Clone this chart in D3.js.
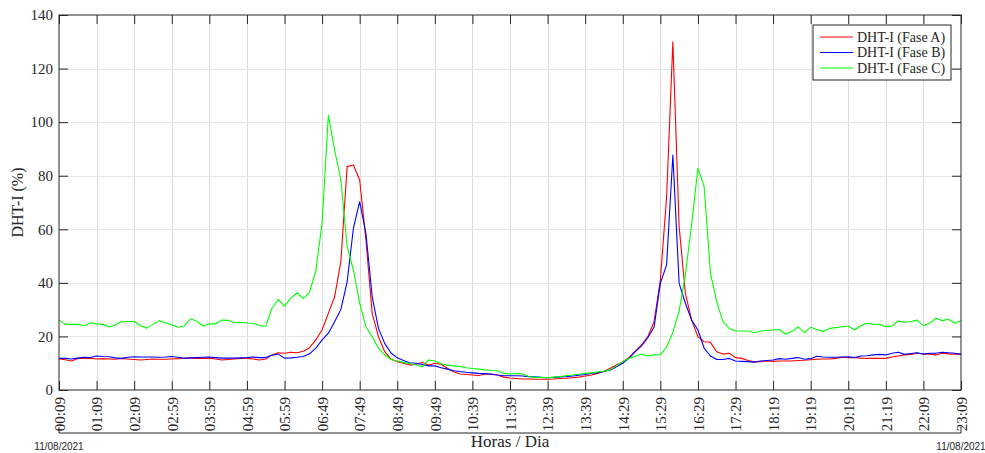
<!DOCTYPE html>
<html>
<head>
<meta charset="utf-8">
<script src="https://cdn.jsdelivr.net/npm/d3@7"></script>
<style>
  body { margin: 0; background: #fff; }
  svg text { font-family: "Liberation Serif", "Times New Roman", serif; fill: #262626; }
</style>
</head>
<body>
<div id="chart"></div>
<script>
// rotulos do eixo x (um a cada 6 amostras)
const horas = ['00:09','01:09','02:09','02:59','03:59','04:59','05:59','06:49','07:49','08:49','09:49','10:39',
  '11:39','12:39','13:39','14:29','15:29','16:29','17:29','18:19','19:19','20:19','21:19','22:09','23:09']
const dataDia = '11/08/2021'
const yTicks = [0, 20, 40, 60, 80, 100, 120, 140]

// DHT-I por fase, 145 amostras
const faseA = [11.6,11.3,10.8,11.8,11.8,11.9,11.6,11.7,11.6,11.5,11.8,11.6,11.4,11.2,11.4,11.6,11.5,11.5,11.6,11.7,
  11.9,11.9,11.8,11.8,11.9,11.6,11.2,11.4,11.6,11.8,11.8,11.6,11.2,11.6,13.1,13.9,13.7,14.1,13.9,14.5,
  15.8,18.7,22.4,28.6,34.8,48.0,83.4,84.0,78.4,56.0,28.6,19.9,14.3,11.5,10.6,10.0,9.3,9.6,10.3,9.3,
  10.0,9.6,8.1,6.8,6.0,5.8,5.6,5.4,6.0,5.8,5.6,4.8,4.5,4.3,4.1,4.1,4.0,4.0,4.0,4.1,
  4.3,4.4,4.6,4.8,5.2,5.6,6.2,7.0,8.1,9.3,10.5,12.2,14.5,16.8,19.9,25.5,41.0,72.0,130.0,61.0,
  36.1,26.1,19.9,18.0,17.8,14.3,13.4,13.7,12.1,11.8,11.0,10.5,10.6,10.8,10.7,10.8,10.8,10.8,11.0,11.1,
  11.3,11.5,11.6,11.6,11.8,12.2,12.1,12.1,11.9,11.8,11.8,11.8,11.8,12.3,12.7,13.1,13.3,13.7,13.5,13.4,
  13.1,13.7,13.5,13.4,13.4]
const faseB = [11.8,11.8,11.6,11.9,12.2,12.1,12.7,12.5,12.4,12.0,11.8,12.2,12.4,12.3,12.3,12.3,12.2,12.3,12.5,12.2,
  11.8,12.0,12.1,12.2,12.3,12.1,11.9,11.9,11.9,12.0,12.1,12.3,12.1,12.1,13.0,13.4,11.9,12.0,12.2,12.5,
  13.5,15.6,18.7,21.2,25.5,30.1,40.4,60.4,70.3,58.5,34.8,23.0,17.4,13.8,12.0,11.0,10.2,10.0,9.5,9.0,
  9.0,8.3,7.8,7.2,6.9,6.6,6.4,6.2,6.1,6.0,5.6,5.3,5.3,5.3,5.2,5.0,4.9,4.7,4.6,4.7,
  4.9,5.0,5.2,5.5,5.8,6.2,6.5,6.9,7.5,8.7,10.0,11.8,14.3,16.5,19.5,23.5,39.8,46.7,87.7,39.8,
  32.4,26.1,22.4,15.6,12.7,11.4,11.4,11.8,10.8,10.7,10.6,10.4,10.8,11.0,11.2,11.7,11.5,11.8,12.1,11.5,
  11.7,12.6,12.3,12.2,12.2,12.3,12.4,12.1,12.7,12.8,13.1,13.3,13.1,13.7,14.1,13.3,13.6,13.9,13.4,13.7,
  13.7,14.1,13.9,13.7,13.3]
const faseC = [26.1,24.6,24.5,24.5,24.0,25.1,24.7,24.5,23.5,24.4,25.5,25.6,25.6,24.0,23.1,24.5,25.9,25.0,24.4,23.4,
  23.9,26.6,25.7,23.9,24.7,24.7,26.1,26.0,25.1,25.3,25.0,24.9,24.1,23.8,30.5,33.8,31.3,34.2,36.3,34.1,
  36.5,44.5,62.2,102.6,89.6,78.4,53.5,44.8,32.4,23.6,19.9,15.6,13.1,11.4,10.8,10.3,9.9,9.3,8.7,11.2,
  10.8,9.8,9.3,9.0,8.8,8.3,8.0,7.8,7.5,7.3,7.2,6.2,6.0,6.2,6.0,5.0,4.7,4.7,4.6,4.8,
  5.0,5.3,5.6,5.9,6.2,6.4,6.7,7.0,7.6,9.0,10.6,11.8,12.6,13.4,12.7,13.1,13.2,16.0,21.5,29.5,
  43.0,62.0,82.8,75.9,43.6,33.0,25.5,23.0,22.0,22.0,22.0,21.4,22.0,22.2,22.4,22.6,20.8,21.8,23.6,21.4,
  23.4,22.6,21.8,23.0,23.3,23.6,23.9,22.4,24.0,24.9,24.6,24.5,23.6,23.9,25.8,25.3,25.6,26.1,24.0,24.9,
  26.8,25.9,26.4,24.9,25.9]

const series = [
  { nome: 'DHT-I (Fase A)', valores: faseA, cor: '#ff0000' },
  { nome: 'DHT-I (Fase B)', valores: faseB, cor: '#0000ff' },
  { nome: 'DHT-I (Fase C)', valores: faseC, cor: '#00ff00' }
]

const width = 985, height = 453
const margin = { top: 15, right: 24, bottom: 63, left: 59 }
const innerWidth = width - margin.left - margin.right
const innerHeight = height - margin.top - margin.bottom
const eixo = '#262626'

const svg = d3.select('#chart').append('svg')
  .attr('width', width).attr('height', height)

const n = faseA.length - 1
const tickIdx = horas.map((h, i) => i * n / (horas.length - 1))

const xScale = d3.scaleLinear().domain([0, n]).range([0, innerWidth])
const yScale = d3.scaleLinear().domain([0, 140]).range([innerHeight, 0])

svg.append('defs').append('clipPath').attr('id', 'clip')
  .append('rect').attr('width', innerWidth).attr('height', innerHeight)

const g = svg.append('g').attr('transform', `translate(${margin.left},${margin.top})`)

// grade
g.append('g').selectAll('line').data(tickIdx.slice(1, -1)).join('line')
  .attr('x1', d => Math.round(xScale(d)) + 0.5).attr('x2', d => Math.round(xScale(d)) + 0.5)
  .attr('y1', 0).attr('y2', innerHeight)
  .attr('stroke', '#dcdcdc').attr('stroke-width', 1)
g.append('g').selectAll('line').data(yTicks.slice(1, -1)).join('line')
  .attr('x1', 0).attr('x2', innerWidth)
  .attr('y1', d => Math.round(yScale(d)) + 0.5).attr('y2', d => Math.round(yScale(d)) + 0.5)
  .attr('stroke', '#e6e6e6').attr('stroke-width', 1)

// linhas
const line = d3.line().x((d, i) => xScale(i)).y(d => yScale(d))
g.append('g').attr('clip-path', 'url(#clip)')
  .selectAll('path').data(series).join('path')
  .attr('d', d => line(d.valores))
  .attr('fill', 'none')
  .attr('stroke', d => d.cor)
  .attr('stroke-width', 1.1)
  .attr('stroke-linejoin', 'round')

// eixos com ticks para dentro
const xAxis = d3.axisBottom(xScale).tickValues(tickIdx)
  .tickFormat((d, i) => horas[i]).tickSize(-9).tickSizeOuter(0)
const xAxisG = g.append('g').attr('transform', `translate(0,${innerHeight})`).call(xAxis)
xAxisG.selectAll('text')
  .attr('transform', 'rotate(-90)')
  .attr('text-anchor', 'end')
  .attr('x', -7).attr('y', 0).attr('dy', '0.35em')
  .style('font-size', '15px')

const yAxisG = g.append('g').call(d3.axisLeft(yScale).tickValues(yTicks)
  .tickSize(-9).tickSizeOuter(0).tickPadding(6))
yAxisG.selectAll('text').style('font-size', '15px')

g.append('g').call(d3.axisTop(xScale).tickValues(tickIdx).tickFormat('').tickSize(-9).tickSizeOuter(0))
g.append('g').attr('transform', `translate(${innerWidth},0)`)
  .call(d3.axisRight(yScale).tickValues(yTicks).tickFormat('').tickSize(-9).tickSizeOuter(0))

svg.selectAll('.domain').remove()
svg.selectAll('.tick line').attr('stroke', eixo)

g.append('rect').attr('width', innerWidth).attr('height', innerHeight)
  .attr('fill', 'none').attr('stroke', eixo).attr('stroke-width', 1)

// linha da data embaixo dos rotulos
const yData = 418
g.append('path')
  .attr('d', `M0,${yData - 6}V${yData}H${innerWidth}V${yData - 6}`)
  .attr('fill', 'none').attr('stroke', eixo)
g.selectAll('.data').data([0, innerWidth]).join('text')
  .attr('x', d => d).attr('y', yData + 17)
  .attr('text-anchor', 'middle')
  .style('font-family', '"Liberation Sans", Arial, sans-serif')
  .style('font-size', '10px')
  .text(dataDia)

// titulos dos eixos
g.append('text').attr('x', innerWidth / 2).attr('y', innerHeight + 57)
  .attr('text-anchor', 'middle').style('font-size', '17px').text('Horas / Dia')
g.append('text').attr('transform', `translate(${-36},${innerHeight / 2}) rotate(-90)`)
  .attr('text-anchor', 'middle').style('font-size', '16px').text('DHT-I (%)')

// legenda
const leg = g.append('g').attr('transform', `translate(${754},${10})`)
leg.append('rect').attr('width', 138).attr('height', 55)
  .attr('fill', '#fff').attr('stroke', eixo).attr('stroke-width', 1)
const item = leg.selectAll('.item').data(series).join('g')
  .attr('transform', (d, i) => `translate(0,${12 + i * 15.5})`)
item.append('line').attr('x1', 7).attr('x2', 40)
  .attr('stroke', d => d.cor).attr('stroke-width', 1.1)
item.append('text').attr('x', 44).attr('dy', '0.35em')
  .style('font-size', '14px').text(d => d.nome)
</script>
</body>
</html>
